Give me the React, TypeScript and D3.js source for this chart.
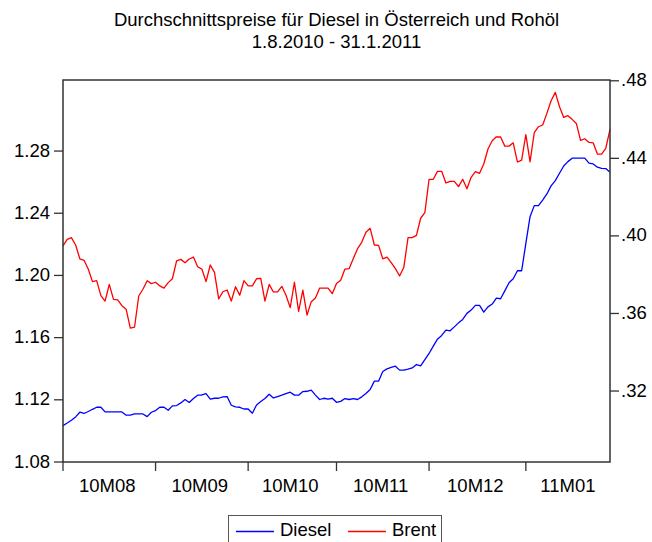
import React, { useEffect, useRef } from 'react';
import * as d3 from 'd3';

// daily prices, business days 2.8.2010 - 31.1.2011
const diesel = [
  1.1034, 1.1051, 1.1069, 1.1090, 1.1120, 1.1112, 1.1125, 1.1139, 1.1152, 1.1152,
  1.1122, 1.1122, 1.1122, 1.1122, 1.1122, 1.1101, 1.1101, 1.1109, 1.1109, 1.1109,
  1.1092, 1.1120, 1.1131, 1.1152, 1.1152, 1.1133, 1.1161, 1.1163, 1.1180, 1.1202,
  1.1183, 1.1208, 1.1230, 1.1231, 1.1240, 1.1204, 1.1210, 1.1210, 1.1219, 1.1221,
  1.1165, 1.1154, 1.1152, 1.1141, 1.1141, 1.1114, 1.1167, 1.1189, 1.1208, 1.1236,
  1.1212, 1.1221, 1.1230, 1.1240, 1.1249, 1.1230, 1.1230, 1.1253, 1.1255, 1.1262,
  1.1230, 1.1202, 1.1210, 1.1204, 1.1210, 1.1184, 1.1190, 1.1208, 1.1202, 1.1208,
  1.1202, 1.1219, 1.1240, 1.1266, 1.1320, 1.1320, 1.1382, 1.1399, 1.1408, 1.1416,
  1.1391, 1.1391, 1.1397, 1.1405, 1.1427, 1.1418, 1.1459, 1.1498, 1.1545, 1.1590,
  1.1614, 1.1648, 1.1644, 1.1669, 1.1695, 1.1717, 1.1756, 1.1777, 1.1807, 1.1807,
  1.1764, 1.1798, 1.1816, 1.1854, 1.1850, 1.1901, 1.1953, 1.1979, 1.2030, 1.2030,
  1.2206, 1.2378, 1.2449, 1.2449, 1.2485, 1.2524, 1.2576, 1.2610, 1.2657, 1.2704,
  1.2732, 1.2754, 1.2754, 1.2754, 1.2754, 1.2722, 1.2717, 1.2696, 1.2689, 1.2687,
  1.2664,
];

const brent = [
  0.3949, 0.3982, 0.3991, 0.3953, 0.3882, 0.3874, 0.3829, 0.3764, 0.3769, 0.3692,
  0.3664, 0.3750, 0.3673, 0.3670, 0.3640, 0.3622, 0.3524, 0.3529, 0.3690, 0.3725,
  0.3769, 0.3754, 0.3761, 0.3742, 0.3731, 0.3759, 0.3779, 0.3871, 0.3879, 0.3862,
  0.3881, 0.3891, 0.3841, 0.3829, 0.3764, 0.3850, 0.3812, 0.3675, 0.3712, 0.3721,
  0.3664, 0.3738, 0.3694, 0.3769, 0.3742, 0.3742, 0.3779, 0.3781, 0.3664, 0.3750,
  0.3711, 0.3711, 0.3740, 0.3694, 0.3630, 0.3761, 0.3611, 0.3720, 0.3592, 0.3661,
  0.3680, 0.3731, 0.3731, 0.3731, 0.3702, 0.3754, 0.3771, 0.3829, 0.3831, 0.3884,
  0.3934, 0.3967, 0.4019, 0.4039, 0.3953, 0.3951, 0.3882, 0.3891, 0.3862, 0.3831,
  0.3793, 0.3838, 0.3991, 0.3991, 0.4003, 0.4091, 0.4120, 0.4292, 0.4292, 0.4333,
  0.4333, 0.4273, 0.4281, 0.4281, 0.4254, 0.4292, 0.4243, 0.4302, 0.4331, 0.4323,
  0.4371, 0.4448, 0.4491, 0.4511, 0.4510, 0.4463, 0.4463, 0.4480, 0.4381, 0.4391,
  0.4522, 0.4382, 0.4532, 0.4563, 0.4572, 0.4632, 0.4697, 0.4740, 0.4666, 0.4611,
  0.4620, 0.4601, 0.4580, 0.4493, 0.4501, 0.4482, 0.4480, 0.4422, 0.4422, 0.4452,
  0.4549,
];

// first observation of each month
const monthLabels = ['10M08', '10M09', '10M10', '10M11', '10M12', '11M01'];
const monthStart = [0, 22, 44, 65, 87, 110];

const leftTicks = [1.08, 1.12, 1.16, 1.20, 1.24, 1.28];
const rightTicks = [0.32, 0.36, 0.40, 0.44, 0.48];

const FONT = '"Liberation Sans", Arial, Helvetica, sans-serif';

function App() {
  const svgRef = useRef(null);
  const width = 652;
  const height = 542;

  useEffect(() => {
    const svg = d3.select(svgRef.current);
    svg.selectAll('*').remove();

    const m = { left: 63, right: 610, top: 80, bottom: 462 };
    const n = diesel.length;

    const x = d3.scaleLinear().domain([0, n - 1]).range([m.left, m.right]);
    const yL = d3.scaleLinear().domain([1.08, 1.3257]).range([m.bottom, m.top]);
    const yR = d3.scaleLinear().domain([0.2834, 0.4804]).range([m.bottom, m.top]);

    svg.append('rect').attr('width', width).attr('height', height).attr('fill', '#fff');

    // title
    const title = svg.append('text')
      .attr('text-anchor', 'middle')
      .style('font-family', FONT)
      .style('font-size', '18.5px')
      .attr('fill', '#000');
    title.append('tspan').attr('x', (m.left + m.right) / 2).attr('y', 26)
      .text('Durchschnittspreise für Diesel in Österreich und Rohöl');
    title.append('tspan').attr('x', (m.left + m.right) / 2).attr('y', 48)
      .text('1.8.2010 - 31.1.2011');

    // lines
    const lineL = d3.line<number>().x((d, i) => x(i)).y(d => yL(d));
    const lineR = d3.line<number>().x((d, i) => x(i)).y(d => yR(d));

    svg.append('path').datum(brent)
      .attr('d', lineR)
      .attr('fill', 'none')
      .attr('stroke', '#ff0000')
      .attr('stroke-width', 1.3)
      .attr('stroke-linejoin', 'round');

    svg.append('path').datum(diesel)
      .attr('d', lineL)
      .attr('fill', 'none')
      .attr('stroke', '#0000ff')
      .attr('stroke-width', 1.3)
      .attr('stroke-linejoin', 'round');

    // frame
    svg.append('rect')
      .attr('x', m.left).attr('y', m.top)
      .attr('width', m.right - m.left).attr('height', m.bottom - m.top)
      .attr('fill', 'none')
      .attr('stroke', '#333')
      .attr('stroke-width', 1.5);

    const axisColor = '#333';
    const labelStyle = (sel: any) => sel
      .style('font-family', FONT)
      .style('font-size', '18.5px')
      .attr('fill', '#000');

    // left axis
    leftTicks.forEach(t => {
      svg.append('line')
        .attr('x1', m.left - 9).attr('x2', m.left)
        .attr('y1', yL(t)).attr('y2', yL(t))
        .attr('stroke', axisColor).attr('stroke-width', 1.3);
      svg.append('text')
        .attr('x', m.left - 13).attr('y', yL(t) + 5.5)
        .attr('text-anchor', 'end')
        .call(labelStyle)
        .text(d3.format('.2f')(t));
    });

    // right axis
    rightTicks.forEach(t => {
      svg.append('line')
        .attr('x1', m.right).attr('x2', m.right + 9)
        .attr('y1', yR(t)).attr('y2', yR(t))
        .attr('stroke', axisColor).attr('stroke-width', 1.3);
      svg.append('text')
        .attr('x', m.right + 11).attr('y', yR(t) + 5.5)
        .attr('text-anchor', 'start')
        .call(labelStyle)
        .text(d3.format('.2f')(t).replace(/^0/, ''));
    });

    // bottom axis
    monthStart.forEach((s, i) => {
      svg.append('line')
        .attr('x1', x(s)).attr('x2', x(s))
        .attr('y1', m.bottom).attr('y2', m.bottom + 9)
        .attr('stroke', axisColor).attr('stroke-width', 1.3);
      const end = i < monthStart.length - 1 ? monthStart[i + 1] - 1 : n - 1;
      svg.append('text')
        .attr('x', x((s + end) / 2)).attr('y', m.bottom + 30)
        .attr('text-anchor', 'middle')
        .call(labelStyle)
        .text(monthLabels[i]);
    });

    // legend
    const lg = svg.append('g');
    lg.append('rect')
      .attr('x', 228.5).attr('y', 515.5)
      .attr('width', 213).attr('height', 32)
      .attr('fill', '#fff')
      .attr('stroke', '#555').attr('stroke-width', 1);
    const items = [
      { name: 'Diesel', color: '#0000ff', x0: 236 },
      { name: 'Brent', color: '#ff0000', x0: 348 },
    ];
    items.forEach(it => {
      lg.append('line')
        .attr('x1', it.x0).attr('x2', it.x0 + 38)
        .attr('y1', 531.5).attr('y2', 531.5)
        .attr('stroke', it.color).attr('stroke-width', 1.3);
      lg.append('text')
        .attr('x', it.x0 + 44).attr('y', 536)
        .call(labelStyle)
        .text(it.name);
    });
  }, []);

  return (
    <svg
      ref={svgRef}
      width={width}
      height={height}
      style={{ position: 'absolute', left: 0, top: 0, display: 'block' }}
    />
  );
}

export default App;
